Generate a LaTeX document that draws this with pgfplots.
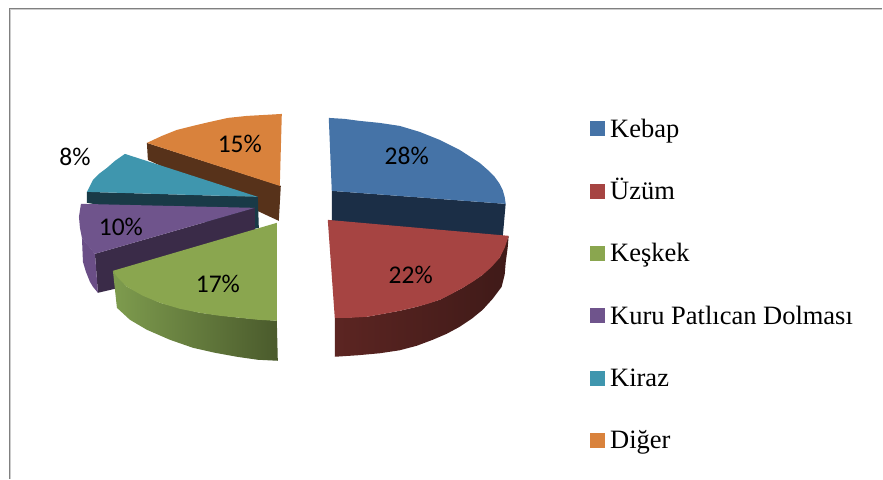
\documentclass[border=0pt]{standalone}
\usepackage{pgfplots}
\usepackage{fontspec}
\pgfplotsset{compat=1.18}
\setmainfont{Liberation Serif}
\newfontfamily\lab{Carlito}
\definecolor{cblue}{HTML}{4573A7}
\definecolor{cred}{HTML}{A64442}
\definecolor{cgreen}{HTML}{8AA64F}
\definecolor{cpurple}{HTML}{6F548C}
\definecolor{cteal}{HTML}{3F96AE}
\definecolor{corange}{HTML}{D9823C}
\definecolor{sorange}{HTML}{57321A}
\definecolor{steal}{HTML}{193A47}
\definecolor{spurple}{HTML}{3A2B48}
\definecolor{opurple}{HTML}{6A4E86}
\definecolor{sblue}{HTML}{1B2E46}
\definecolor{sgreenl}{HTML}{7E9C4E}
\definecolor{sgreenr}{HTML}{4A5A2C}
\definecolor{sredl}{HTML}{5C2522}
\definecolor{sredr}{HTML}{3F1A18}
\pgfplotsset{
  sq/.style={legend image code/.code={\fill[##1] (0pt,-4.5pt) rectangle (14pt,9.5pt);}},
}
\begin{document}
\begin{tikzpicture}
\begin{axis}[
    scale only axis, width=883pt, height=479pt,
    xmin=0, xmax=883, ymin=0, ymax=479, y dir=reverse,
    hide axis, clip=false,
    legend style={draw=none, fill=none, at={(axis cs:590,119)}, anchor=north west,
      font=\fontsize{26.5}{26.5}\selectfont, row sep=38.4pt, inner sep=0pt,
      /tikz/column 1/.style={column sep=6pt},
      nodes={inner sep=0pt, text height=18pt, text depth=6pt}},
    legend cell align=left,
    legend columns=1,
]
% legend entries
\addlegendimage{sq, cblue, fill=cblue}
\addlegendentry{Kebap}
\addlegendimage{sq, cred, fill=cred}
\addlegendentry{Üzüm}
\addlegendimage{sq, cgreen, fill=cgreen}
\addlegendentry{Keşkek}
\addlegendimage{sq, cpurple, fill=cpurple}
\addlegendentry{Kuru Patlıcan Dolması}
\addlegendimage{sq, cteal, fill=cteal}
\addlegendentry{Kiraz}
\addlegendimage{sq, corange, fill=corange}
\addlegendentry{Diğer}

% page
\addplot[forget plot, draw=none, fill=white] coordinates {(0,0) (883,0) (883,479) (0,479)} --cycle;
% frame
\addplot[forget plot, color=black!20!white, line width=1.2pt] coordinates {(10.5,479) (10.5,9.8) (883,9.8)};
\addplot[forget plot, color=black!50!white, line width=1pt] coordinates {(9.3,479) (9.3,8.6) (883,8.6)};

% orange: side, top
\addplot[forget plot, draw=none, fill=sorange] coordinates {(147,143) (281,186) (279,221) (148,160)} --cycle;
\addplot[forget plot, draw=none, fill=corange] coordinates {(147,143) (162,136) (177,130) (193,126) (210,122) (228,118) (247,116) (265,115) (282,114) (280,186)} --cycle;
% teal
\addplot[forget plot, draw=none, fill=steal] coordinates {(87,192) (258,197) (259,228) (250,230) (87,203)} --cycle;
\addplot[forget plot, draw=none, fill=cteal] coordinates {(125,154) (115,161) (107,168) (99,174) (93,180) (87,192) (258,197)} --cycle;
% purple
\addplot[forget plot, draw=none, fill=spurple] coordinates {(95,254) (255,208) (255,232) (115,272) (115,289) (98,293)} --cycle;
\addplot[forget plot, draw=none, fill=opurple] coordinates {(82,238) (95,254) (98,293) (93,287) (90,282) (86,272) (83,262)} --cycle;
\addplot[forget plot, draw=none, fill=cpurple] coordinates {(81,204) (79,217) (80,228) (82,238) (88,246) (95,254) (255,208)} --cycle;
% green
\addplot[forget plot, draw=none, left color=sgreenl, right color=sgreenr] coordinates {(113,271) (117,308) (130,320) (147,330) (170,340) (193,348) (215,353) (237,357) (258,360) (278,361) (277,321) (240,318) (200,313) (160,303) (127,287)} --cycle;
\addplot[forget plot, draw=none, fill=cgreen] coordinates {(277,223) (113,271) (118,278) (127,287) (143,296) (160,303) (180,309) (200,313) (220,316) (240,318) (258,320) (277,321)} --cycle;
% blue
\addplot[forget plot, draw=none, fill=sblue] coordinates {(332,191) (506,204) (503,238) (332,222)} --cycle;
\addplot[forget plot, draw=none, fill=cblue] coordinates {(329,118) (345,119) (360,121) (380,123) (400,126) (420,132) (440,140) (460,150) (480,163) (488,170) (495,177) (500,184) (503,190) (505,197) (506,204) (332,191)} --cycle;
% red
\addplot[forget plot, draw=none, left color=sredl, right color=sredr] coordinates {(335,318) (335,357) (358,355.5) (380,353.5) (400,350.5) (417,346) (433,340) (447,334) (460,327) (472,319) (483,310) (493,299) (502,287) (505,275) (506,263) (508,248) (509,236) (500,258) (483,275) (463,288) (440,300) (417,307) (400,311) (367,317)} --cycle;
\addplot[forget plot, draw=none, fill=cred] coordinates {(328,220) (509,236) (505,248) (500,258) (492,267) (483,275) (473,282) (463,288) (452,294) (440,300) (428,304) (417,307) (400,311) (384,314) (367,317) (350,318) (335,318)} --cycle;

% percentage labels
\node[font=\lab\fontsize{25.5}{25.5}\selectfont] at (axis cs:407,156) {28\%};
\node[font=\lab\fontsize{25.5}{25.5}\selectfont] at (axis cs:411,275) {22\%};
\node[font=\lab\fontsize{25.5}{25.5}\selectfont] at (axis cs:218,284) {17\%};
\node[font=\lab\fontsize{25.5}{25.5}\selectfont] at (axis cs:121,227) {10\%};
\node[font=\lab\fontsize{25.5}{25.5}\selectfont] at (axis cs:75,157) {8\%};
\node[font=\lab\fontsize{25.5}{25.5}\selectfont] at (axis cs:240,144) {15\%};
\end{axis}
\end{tikzpicture}
\end{document}
